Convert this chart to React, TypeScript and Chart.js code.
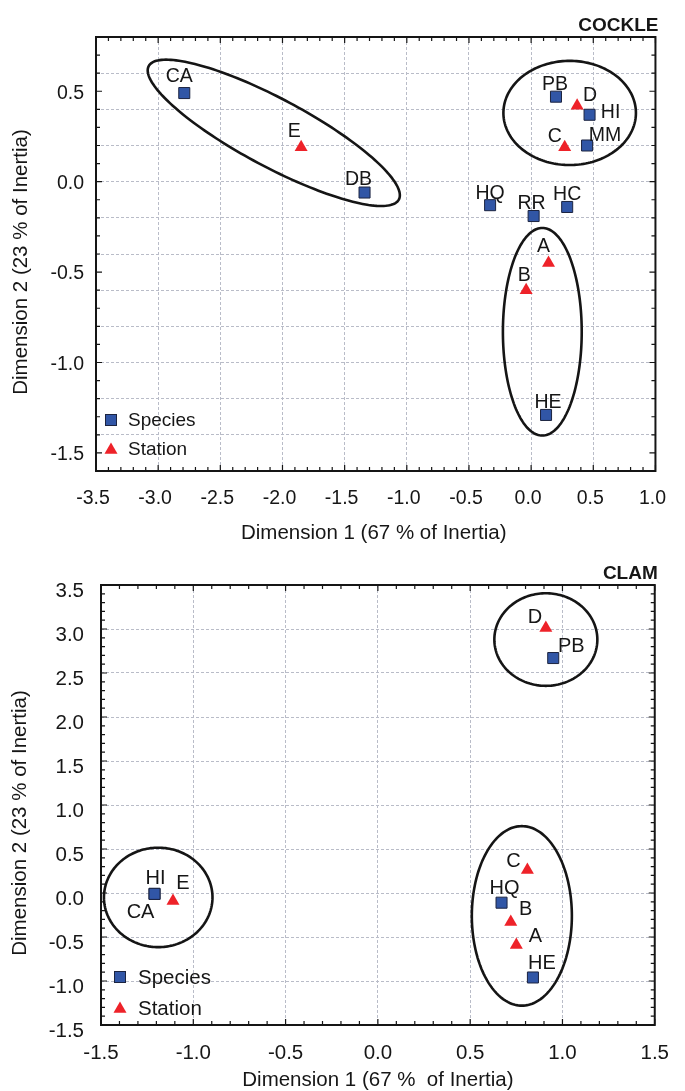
import React, { useEffect, useRef } from 'react';
import { Chart, registerables } from 'chart.js';
Chart.register(...registerables);

const FONT = "'Liberation Sans', Arial, Helvetica, sans-serif";

// ---------- COCKLE data ----------
const cockleSpeciesLabels = ['CA', 'DB', 'PB', 'HI', 'MM', 'HQ', 'RR', 'HC', 'HE'];
const cockleSpeciesX = [-2.79, -1.34, 0.2, 0.47, 0.45, -0.33, 0.02, 0.29, 0.12];
const cockleSpeciesY = [0.49, -0.06, 0.47, 0.37, 0.2, -0.13, -0.19, -0.14, -1.29];
const cockleStationLabels = ['E', 'D', 'C', 'A', 'B'];
const cockleStationX = [-1.85, 0.37, 0.27, 0.14, -0.04];
const cockleStationY = [0.19, 0.42, 0.19, -0.45, -0.6];
const cockleXTickLabels = [-3.5, -3.0, -2.5, -2.0, -1.5, -1.0, -0.5, 0.0, 0.5, 1.0];
const cockleYTickLabels = [-1.5, -1.0, -0.5, 0.0, 0.5];
const cockleXRange = [-3.5, 1.0];
const cockleYRange = [-1.6, 0.8];
// ellipses: centre and two conjugate semi-axis vectors, in data units
const cockleEllipseCX = [-2.07, 0.31, 0.09];
const cockleEllipseCY = [0.27, 0.38, -0.83];
const cockleEllipseAX = [1.006, 0.533, 0.317];
const cockleEllipseAY = [-0.369, 0, 0];
const cockleEllipseBX = [-0.128, 0, 0];
const cockleEllipseBY = [-0.166, 0.288, 0.574];

// ---------- CLAM data ----------
const clamSpeciesLabels = ['PB', 'HI', 'CA', 'HQ', 'HE'];
const clamSpeciesX = [0.95, -1.21, -1.21, 0.67, 0.84];
const clamSpeciesY = [2.67, -0.01, -0.01, -0.11, -0.96];
const clamStationLabels = ['D', 'E', 'C', 'B', 'A'];
const clamStationX = [0.91, -1.11, 0.81, 0.72, 0.75];
const clamStationY = [3.01, -0.09, 0.26, -0.33, -0.59];
const clamXTickLabels = [-1.5, -1.0, -0.5, 0.0, 0.5, 1.0, 1.5];
const clamYTickLabels = [-1.5, -1.0, -0.5, 0.0, 0.5, 1.0, 1.5, 2.0, 2.5, 3.0, 3.5];
const clamXRange = [-1.5, 1.5];
const clamYRange = [-1.5, 3.5];
const clamEllipseCX = [0.91, -1.19, 0.78];
const clamEllipseCY = [2.88, -0.05, -0.26];
const clamEllipseAX = [0.279, 0.294, 0.271];
const clamEllipseAY = [0, 0, 0];
const clamEllipseBX = [0, 0, 0];
const clamEllipseBY = [0.526, 0.565, 1.02];

// ---------- styles ----------
const BLUE = '#3156a6';
const BLUE_EDGE = '#1c2440';
const RED = '#ee2229';
const TEXT = '#161616';
const GRID = '#b9bcc8';

const cockleLabelOffsets: Record<string, [number, number]> = {
  CA: [-5, -17], DB: [-6, -14], PB: [-1, -13], HI: [21, -3], MM: [18, -11],
  HQ: [0, -13], RR: [-2, -13], HC: [0, -13], HE: [2, -13],
  E: [-7, -17], D: [13, -11], C: [-10, -12], A: [-5, -17], B: [-2, -16],
};
const clamLabelOffsets: Record<string, [number, number]> = {
  PB: [18, -13], HI: [1, -16], CA: [-14, 18], HQ: [3, -15], HE: [9, -15],
  D: [-11, -12], E: [10, -18], C: [-14, -10], B: [15, -14], A: [19, -9],
};

type Panel = {
  title: string;
  height: number;
  area: { left: number; right: number; top: number; bottom: number };
  xRange: number[]; yRange: number[];
  xTickLabels: number[]; yTickLabels: number[];
  xGridStep: number; yGridStep: number;
  speciesLabels: string[]; speciesX: number[]; speciesY: number[];
  stationLabels: string[]; stationX: number[]; stationY: number[];
  eCX: number[]; eCY: number[]; eAX: number[]; eAY: number[]; eBX: number[]; eBY: number[];
  labelOffsets: Record<string, [number, number]>;
  tickSize: number; labelSize: number; legendSize: number; axisTitleSize: number;
  xTitle: string; yTitle: string;
  xTitleY: number; yTitleX: number; yTitleShift: number; xTitleShift: number;
  yLabelOffset: number; yLabelPad: number; xLabelOffset: number;
  legend: { dx: number; sy: number; ty: number; textDx: number };
};

const W = 685;

const cocklePanel: Panel = {
  title: 'COCKLE', height: 545,
  area: { left: 96, right: 657, top: 37, bottom: 471 },
  xRange: cockleXRange, yRange: cockleYRange,
  xTickLabels: cockleXTickLabels, yTickLabels: cockleYTickLabels,
  xGridStep: 0.5, yGridStep: 0.2,
  speciesLabels: cockleSpeciesLabels, speciesX: cockleSpeciesX, speciesY: cockleSpeciesY,
  stationLabels: cockleStationLabels, stationX: cockleStationX, stationY: cockleStationY,
  eCX: cockleEllipseCX, eCY: cockleEllipseCY, eAX: cockleEllipseAX, eAY: cockleEllipseAY,
  eBX: cockleEllipseBX, eBY: cockleEllipseBY,
  labelOffsets: cockleLabelOffsets,
  tickSize: 19.5, labelSize: 19.5, legendSize: 19, axisTitleSize: 20.5,
  xTitle: 'Dimension 1 (67 % of Inertia)', yTitle: 'Dimension 2 (23 % of Inertia)',
  xTitleY: 533, yTitleX: 21, yTitleShift: 8, xTitleShift: -2,
  yLabelOffset: 2, yLabelPad: 12, xLabelOffset: -3,
  legend: { dx: 15, sy: -51, ty: -23, textDx: 32 },
};

const clamPanel: Panel = {
  title: 'CLAM', height: 546,
  area: { left: 101, right: 656, top: 40, bottom: 480 },
  xRange: clamXRange, yRange: clamYRange,
  xTickLabels: clamXTickLabels, yTickLabels: clamYTickLabels,
  xGridStep: 0.5, yGridStep: 0.5,
  speciesLabels: clamSpeciesLabels, speciesX: clamSpeciesX, speciesY: clamSpeciesY,
  stationLabels: clamStationLabels, stationX: clamStationX, stationY: clamStationY,
  eCX: clamEllipseCX, eCY: clamEllipseCY, eAX: clamEllipseAX, eAY: clamEllipseAY,
  eBX: clamEllipseBX, eBY: clamEllipseBY,
  labelOffsets: clamLabelOffsets,
  tickSize: 20.5, labelSize: 20, legendSize: 20.5, axisTitleSize: 20.5,
  xTitle: 'Dimension 1 (67 %  of Inertia)', yTitle: 'Dimension 2 (23 % of Inertia)',
  xTitleY: 535, yTitleX: 20, yTitleShift: 18, xTitleShift: 0,
  yLabelOffset: 6, yLabelPad: 17, xLabelOffset: 0,
  legend: { dx: 19, sy: -48, ty: -18, textDx: 37 },
};

const near = (a: number, b: number) => Math.abs(a - b) < 1e-6;
const isMultiple = (v: number, step: number) => Math.abs(v / step - Math.round(v / step)) < 1e-6;

function drawSquare(ctx: CanvasRenderingContext2D, x: number, y: number, s: number) {
  ctx.fillStyle = BLUE;
  ctx.fillRect(x - s / 2, y - s / 2, s, s);
  ctx.strokeStyle = BLUE_EDGE;
  ctx.lineWidth = 1;
  ctx.strokeRect(x - s / 2, y - s / 2, s, s);
}
function drawTriangle(ctx: CanvasRenderingContext2D, x: number, y: number, r: number) {
  ctx.fillStyle = RED;
  ctx.beginPath();
  ctx.moveTo(x, y - r);
  ctx.lineTo(x + r * Math.sin((2 * Math.PI) / 3), y + r / 2);
  ctx.lineTo(x - r * Math.sin((2 * Math.PI) / 3), y + r / 2);
  ctx.closePath();
  ctx.fill();
}

function buildChart(canvas: HTMLCanvasElement, p: Panel) {
  const tickLabel = (list: number[]) => (v: any) => {
    const n = Number(v);
    return list.some((t) => near(t, n)) ? n.toFixed(1) : '';
  };
  const gridColor = (step: number, range: number[]) => (c: any) => {
    const v = c.tick ? c.tick.value : NaN;
    if (near(v, range[0]) || near(v, range[1])) return 'rgba(0,0,0,0)';
    return isMultiple(v, step) ? GRID : 'rgba(0,0,0,0)';
  };

  const panelPlugin = {
    id: 'panelDecor',
    beforeDatasetsDraw(chart: any) {
      const ctx = chart.ctx as CanvasRenderingContext2D;
      const xs = chart.scales.x;
      const ys = chart.scales.y;
      ctx.save();
      ctx.strokeStyle = '#151515';
      ctx.lineWidth = 2.6;
      for (let i = 0; i < p.eCX.length; i++) {
        ctx.beginPath();
        const N = 180;
        for (let k = 0; k <= N; k++) {
          const t = (k / N) * Math.PI * 2;
          const dx = p.eCX[i] + p.eAX[i] * Math.cos(t) + p.eBX[i] * Math.sin(t);
          const dy = p.eCY[i] + p.eAY[i] * Math.cos(t) + p.eBY[i] * Math.sin(t);
          const px = xs.getPixelForValue(dx);
          const py = ys.getPixelForValue(dy);
          if (k === 0) ctx.moveTo(px, py);
          else ctx.lineTo(px, py);
        }
        ctx.closePath();
        ctx.stroke();
      }
      ctx.restore();
    },
    afterDraw(chart: any) {
      const ctx = chart.ctx as CanvasRenderingContext2D;
      const a = chart.chartArea;
      const xs = chart.scales.x;
      const ys = chart.scales.y;
      ctx.save();
      // point labels
      ctx.fillStyle = TEXT;
      ctx.font = `${p.labelSize}px ${FONT}`;
      ctx.textAlign = 'center';
      ctx.textBaseline = 'middle';
      const lists = [p.speciesLabels, p.stationLabels];
      for (let d = 0; d < 2; d++) {
        const meta = chart.getDatasetMeta(d);
        meta.data.forEach((el: any, j: number) => {
          const name = lists[d][j];
          const off = p.labelOffsets[name] || [0, -14];
          ctx.fillText(name, el.x + off[0], el.y + off[1] + 1);
        });
      }
      // frame
      ctx.strokeStyle = '#151515';
      ctx.lineWidth = 2;
      ctx.strokeRect(a.left, a.top, a.right - a.left, a.bottom - a.top);
      // inward minor ticks
      ctx.lineWidth = 1.2;
      ctx.beginPath();
      xs.ticks.forEach((t: any) => {
        const px = xs.getPixelForValue(t.value);
        const len = p.xTickLabels.some((v) => near(v, t.value)) ? 6 : 4;
        ctx.moveTo(px, a.bottom);
        ctx.lineTo(px, a.bottom - len);
        ctx.moveTo(px, a.top);
        ctx.lineTo(px, a.top + len);
      });
      ys.ticks.forEach((t: any) => {
        const py = ys.getPixelForValue(t.value);
        const len = p.yTickLabels.some((v) => near(v, t.value)) ? 6 : 4;
        ctx.moveTo(a.left, py);
        ctx.lineTo(a.left + len, py);
        ctx.moveTo(a.right, py);
        ctx.lineTo(a.right - len, py);
      });
      ctx.stroke();
      // legend
      const lx = a.left + p.legend.dx;
      const sy = a.bottom + p.legend.sy;
      const ty = a.bottom + p.legend.ty;
      drawSquare(ctx, lx, sy, 11);
      drawTriangle(ctx, lx, ty + 2, 7.5);
      ctx.fillStyle = TEXT;
      ctx.font = `${p.legendSize}px ${FONT}`;
      ctx.textAlign = 'left';
      ctx.textBaseline = 'middle';
      ctx.fillText(chart.data.datasets[0].label, a.left + p.legend.textDx, sy + 1);
      ctx.fillText(chart.data.datasets[1].label, a.left + p.legend.textDx, ty + 2);
      // panel title
      ctx.font = `bold 19px ${FONT}`;
      ctx.textAlign = 'right';
      ctx.textBaseline = 'alphabetic';
      ctx.fillText(p.title, a.right + 3, a.top - 6);
      // axis titles
      ctx.font = `${p.axisTitleSize}px ${FONT}`;
      ctx.textAlign = 'center';
      ctx.textBaseline = 'middle';
      ctx.fillText(p.xTitle, (a.left + a.right) / 2 + p.xTitleShift, p.xTitleY);
      ctx.translate(p.yTitleX, (a.top + a.bottom) / 2 + p.yTitleShift);
      ctx.rotate(-Math.PI / 2);
      ctx.fillText(p.yTitle, 0, 0);
      ctx.restore();
    },
  };

  return new Chart(canvas, {
    type: 'scatter',
    data: {
      datasets: [
        {
          label: 'Species',
          data: p.speciesX.map((x, i) => ({ x, y: p.speciesY[i] })),
          pointStyle: 'rect',
          pointRadius: 7.8,
          backgroundColor: BLUE,
          borderColor: BLUE_EDGE,
          borderWidth: 1,
        },
        {
          label: 'Station',
          data: p.stationX.map((x, i) => ({ x, y: p.stationY[i] })),
          pointStyle: 'triangle',
          pointRadius: 7.5,
          backgroundColor: RED,
          borderColor: RED,
          borderWidth: 0,
        },
      ],
    },
    options: {
      responsive: false,
      animation: false,
      events: [],
      layout: { padding: { top: p.area.top, right: W - p.area.right, left: 0, bottom: 0 } },
      plugins: { legend: { display: false }, tooltip: { enabled: false } },
      scales: {
        x: {
          type: 'linear',
          min: p.xRange[0],
          max: p.xRange[1],
          afterFit: (s: any) => { s.height = p.height - p.area.bottom; },
          ticks: {
            stepSize: 0.1,
            autoSkip: false,
            maxRotation: 0,
            minRotation: 0,
            padding: 16,
            labelOffset: p.xLabelOffset,
            color: TEXT,
            font: { size: p.tickSize, family: FONT },
            callback: tickLabel(p.xTickLabels),
          },
          grid: { drawTicks: false, color: gridColor(p.xGridStep, p.xRange), lineWidth: 1 },
          border: { display: false, dash: [3, 2] },
        },
        y: {
          type: 'linear',
          min: p.yRange[0],
          max: p.yRange[1],
          afterFit: (s: any) => { s.width = p.area.left; },
          ticks: {
            stepSize: 0.1,
            autoSkip: false,
            padding: p.yLabelPad,
            labelOffset: p.yLabelOffset,
            color: TEXT,
            font: { size: p.tickSize, family: FONT },
            callback: tickLabel(p.yTickLabels),
          },
          grid: { drawTicks: false, color: gridColor(p.yGridStep, p.yRange), lineWidth: 1 },
          border: { display: false, dash: [3, 2] },
        },
      },
    } as any,
    plugins: [panelPlugin],
  });
}

function PanelChart({ panel }: { panel: Panel }) {
  const ref = useRef<HTMLCanvasElement>(null);
  useEffect(() => {
    const chart = buildChart(ref.current!, panel);
    return () => chart.destroy();
  }, [panel]);
  return (
    <canvas
      ref={ref}
      width={W}
      height={panel.height}
      style={{ display: 'block', width: W, height: panel.height }}
    />
  );
}

export default function App() {
  return (
    <div style={{ position: 'absolute', left: 0, top: 0, width: W, height: 1091, background: '#ffffff' }}>
      <PanelChart panel={cocklePanel} />
      <PanelChart panel={clamPanel} />
    </div>
  );
}
